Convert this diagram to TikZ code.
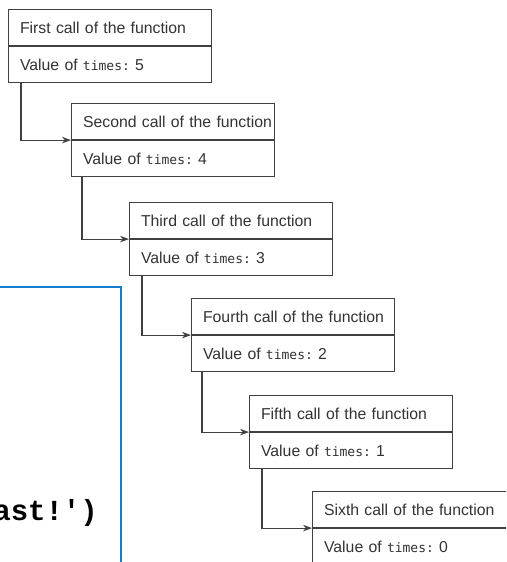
\documentclass[tikz,border=0pt]{standalone}
\usepackage{fontspec}
\setmainfont{Liberation Sans}
\setmonofont{Liberation Mono}
\newfontfamily\valmono{DejaVu Sans Mono}
\usetikzlibrary{arrows.meta}
\definecolor{boxline}{HTML}{404040}
\definecolor{boxtext}{HTML}{333333}
\definecolor{codeblue}{RGB}{22,124,206}
\newcommand\timesword{{\fontsize{13}{16}\selectfont\valmono times:}}
\newcommand\boxline[1]{\makebox[180pt][l]{#1}}
\tikzset{
  callhead/.style={draw=boxline, line width=1.1pt, rectangle, anchor=north west,
    minimum height=36pt, text width=180pt, inner xsep=11.5pt, inner ysep=0pt,
    align=left, text=boxtext, font=\fontsize{15.8}{18}\selectfont},
  callval/.style={callhead},
  callarrow/.style={draw=boxline, line width=1.1pt, -{Stealth[length=9pt,width=6.5pt]}},
}
\begin{document}
\begin{tikzpicture}[x=1pt,y=-1pt]
\useasboundingbox (0,0) rectangle (506,562);
\clip (0,0) rectangle (506,562);
\fill[white] (0,0) rectangle (506,562);
% code panel (partly visible)
\draw[codeblue, line width=2.2pt] (-10,287) -- (121,287) -- (121,580);
\node[anchor=base east, inner sep=0pt, font=\fontsize{29}{32}\selectfont\ttfamily\bfseries] (code) at (98,520) {ast!')};
% call boxes
\node[callhead] (h1) at (8,9) {\boxline{First call of the function}};
\node[callval] (v1) at (h1.south west) {\boxline{Value of \timesword\ 5}};
\node[callhead] (h2) at (71,103) {\boxline{Second call of the function}};
\node[callval] (v2) at (h2.south west) {\boxline{Value of \timesword\ 4}};
\node[callhead] (h3) at (129,202) {\boxline{Third call of the function}};
\node[callval] (v3) at (h3.south west) {\boxline{Value of \timesword\ 3}};
\node[callhead] (h4) at (191,298) {\boxline{Fourth call of the function}};
\node[callval] (v4) at (h4.south west) {\boxline{Value of \timesword\ 2}};
\node[callhead] (h5) at (249,395) {\boxline{Fifth call of the function}};
\node[callval] (v5) at (h5.south west) {\boxline{Value of \timesword\ 1}};
\node[callhead] (h6) at (312,491) {\boxline{Sixth call of the function}};
\node[callval] (v6) at (h6.south west) {\boxline{Value of \timesword\ 0}};
% connectors
\draw[callarrow] ([xshift=13pt]v1.south west) |- (h2.south west);
\draw[callarrow] ([xshift=11pt]v2.south west) |- (h3.south west);
\draw[callarrow] ([xshift=13pt]v3.south west) |- (h4.south west);
\draw[callarrow] ([xshift=11pt]v4.south west) |- (h5.south west);
\draw[callarrow] ([xshift=13pt]v5.south west) |- (h6.south west);
\end{tikzpicture}
\end{document}
